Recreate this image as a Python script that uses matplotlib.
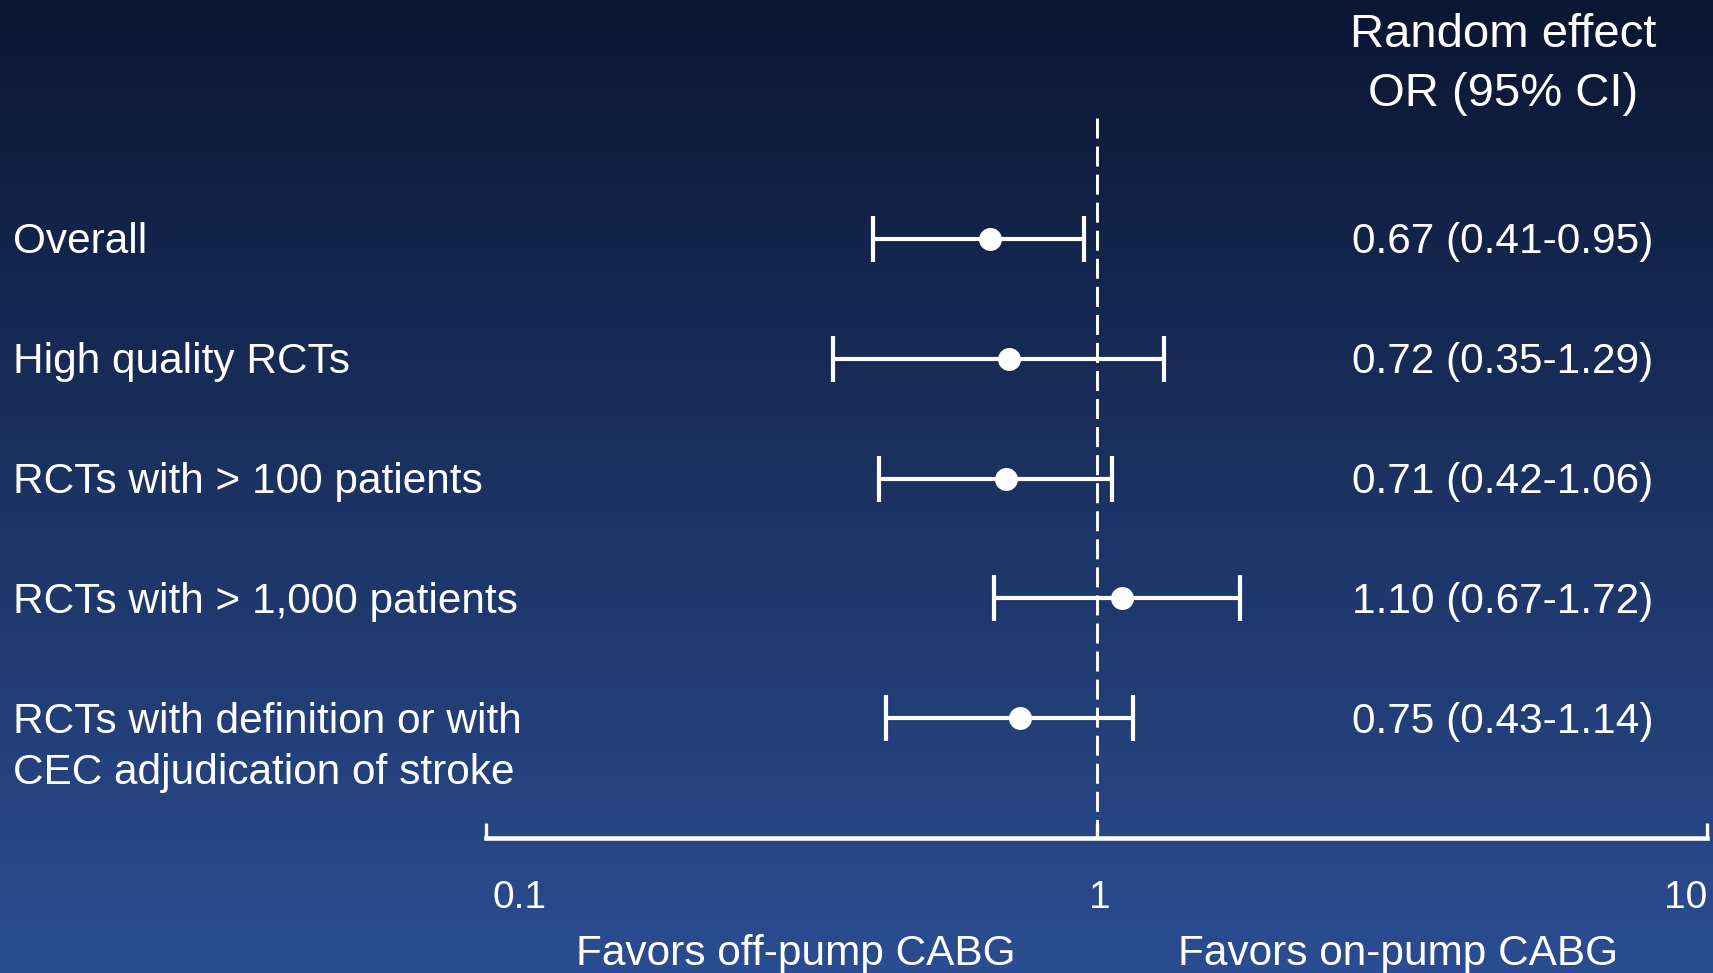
import numpy as np
import matplotlib
matplotlib.use("Agg")
import matplotlib.pyplot as plt
import matplotlib.transforms as mtransforms
from matplotlib.colors import LinearSegmentedColormap
from matplotlib.ticker import NullLocator

plt.rcParams['font.family'] = ['Liberation Sans', 'DejaVu Sans']
plt.rcParams['lines.scale_dashes'] = False

# ---------------- data ----------------
categories = [
    "Overall",
    "High quality RCTs",
    "RCTs with > 100 patients",
    "RCTs with > 1,000 patients",
    "RCTs with definition or with\nCEC adjudication of stroke",
]
or_vals = [0.67, 0.72, 0.71, 1.10, 0.75]
ci_low = [0.41, 0.35, 0.42, 0.67, 0.43]
ci_high = [0.95, 1.29, 1.06, 1.72, 1.14]
# whisker ends as drawn in the picture
whisker_low = [0.43, 0.37, 0.44, 0.68, 0.452]
whisker_high = [0.955, 1.29, 1.06, 1.72, 1.146]
x_ticks = [0.1, 1, 10]
x_tick_labels = ["0.1", "1", "10"]
header = ["Random effect", "OR (95% CI)"]
favors = ["Favors off-pump CABG", "Favors on-pump CABG"]

# ---------------- figure ----------------
W, H = 1713, 973
fig = plt.figure(figsize=(W / 100, H / 100), dpi=100)

bg = fig.add_axes([0, 0, 1, 1], zorder=-10)
cmap = LinearSegmentedColormap.from_list('bg', ['#0b1632', '#1b3262', '#2b4d91'])
grad = np.linspace(0, 1, 512).reshape(-1, 1)
bg.imshow(grad, aspect='auto', cmap=cmap, extent=[0, 1, 0, 1], origin='upper')
bg.set_axis_off()

ax = fig.add_axes([486 / W, 1 - 838 / H, (1707 - 486) / W, (838 - 118) / H])
ax.set_xscale('log')
ax.set_xlim(0.1, 10)
ax.set_ylim(5, -1.01)
ax.patch.set_alpha(0)
for s in ['top', 'right', 'left']:
    ax.spines[s].set_visible(False)
ax.spines['bottom'].set_color('white')
ax.spines['bottom'].set_linewidth(3.3)
ax.set_xticks(x_ticks)
ax.set_xticklabels([])
ax.xaxis.set_minor_locator(NullLocator())
ax.tick_params(axis='x', direction='in', length=11, width=2.4, color='white')
ax.set_yticks([])

rows = np.arange(len(categories))
orv = np.array(or_vals)
xerr = [orv - np.array(whisker_low), np.array(whisker_high) - orv]
ax.errorbar(or_vals, rows, xerr=xerr, fmt='o', color='white', ecolor='white',
            ms=15.5, elinewidth=3.0, capsize=16.5, capthick=3.0,
            clip_on=False, zorder=3)

ax.plot([1, 1], [-1.01, 5], color='white', lw=2.1, dashes=(14.4, 5.8), zorder=2)

# row labels and values
label_tr = mtransforms.blended_transform_factory(fig.transFigure, ax.transData)
for i, lab in enumerate(categories):
    for j, line in enumerate(lab.split('\n')):
        ax.text(13 / W, i + 0.121 + j * 0.43, line, transform=label_tr,
                ha='left', va='baseline', fontsize=30.5, color='white')
    txt = f"{or_vals[i]:.2f} ({ci_low[i]:.2f}-{ci_high[i]:.2f})"
    ax.text(1352 / W, i + 0.121, txt, transform=label_tr,
            ha='left', va='baseline', fontsize=30.5, color='white')

# header
fig.text(1503 / W, 1 - 47 / H, header[0], ha='center', va='baseline',
         fontsize=34, color='white')
fig.text(1503 / W, 1 - 106 / H, header[1], ha='center', va='baseline',
         fontsize=34, color='white')

# tick labels
tick_tr = mtransforms.blended_transform_factory(ax.transData, fig.transFigure)
aligns = ['left', 'center', 'right']
offsets = [6, 3, 0]
for t, lab, ha, off in zip(x_ticks, x_tick_labels, aligns, offsets):
    tr = tick_tr + mtransforms.ScaledTranslation(off / 100, 0, fig.dpi_scale_trans)
    ax.text(t, 1 - 908 / H, lab, transform=tr, ha=ha, va='baseline',
            fontsize=28, color='white')

# favors labels
fav_tr = mtransforms.blended_transform_factory(ax.transAxes, fig.transFigure)
ax.text(0.2539, 1 - 965 / H, favors[0], transform=fav_tr, ha='center',
        va='baseline', fontsize=30.5, color='white')
ax.text(0.7469, 1 - 965 / H, favors[1], transform=fav_tr, ha='center',
        va='baseline', fontsize=30.5, color='white')

fig.savefig('out.png', dpi=100)
